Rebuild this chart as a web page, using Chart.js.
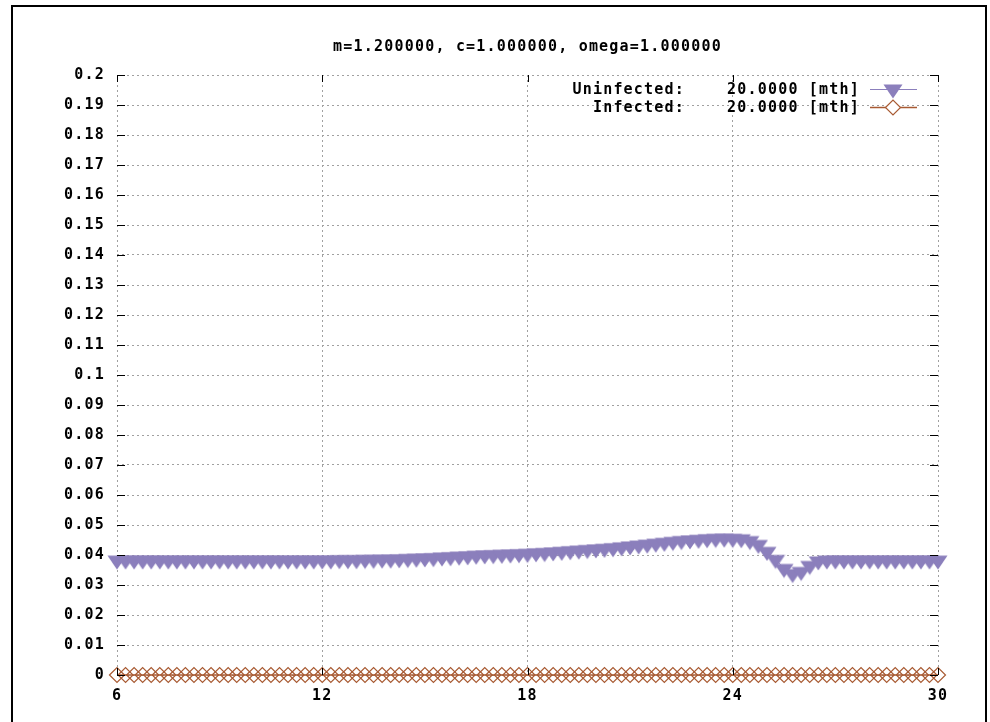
<!DOCTYPE html>
<html>
<head>
<meta charset="utf-8">
<title>m=1.200000, c=1.000000, omega=1.000000</title>
<script src="https://cdn.jsdelivr.net/npm/chart.js"></script>
<style>
  html, body { margin: 0; padding: 0; background: #fff; overflow: hidden; }
  #frame { position: absolute; left: 11px; top: 5px; width: 972px; height: 800px; border: 2px solid #000; border-bottom: none; }
  #wrap { position: absolute; left: 0; top: 0; width: 990px; height: 722px; }
</style>
</head>
<body>
<div id="frame"></div>
<div id="wrap"><canvas id="chart"></canvas></div>
<script>
// chart text
var title = 'm=1.200000, c=1.000000, omega=1.000000';
var seriesNames = ['Uninfected:', 'Infected:'];
var seriesNotes = ['20.0000 [mth]', '20.0000 [mth]'];

// axes
var xTicks = [6, 12, 18, 24, 30];
var yTicks = [0, 0.01, 0.02, 0.03, 0.04, 0.05, 0.06, 0.07, 0.08, 0.09, 0.1,
              0.11, 0.12, 0.13, 0.14, 0.15, 0.16, 0.17, 0.18, 0.19, 0.2];
var yLabels = ['0', '0.01', '0.02', '0.03', '0.04', '0.05', '0.06', '0.07', '0.08', '0.09', '0.1',
               '0.11', '0.12', '0.13', '0.14', '0.15', '0.16', '0.17', '0.18', '0.19', '0.2'];

// sample times
var times = [
  6, 6.25, 6.5, 6.75, 7, 7.25, 7.5, 7.75, 8, 8.25, 8.5, 8.75,
  9, 9.25, 9.5, 9.75, 10, 10.25, 10.5, 10.75, 11, 11.25, 11.5, 11.75,
  12, 12.25, 12.5, 12.75, 13, 13.25, 13.5, 13.75, 14, 14.25, 14.5, 14.75,
  15, 15.25, 15.5, 15.75, 16, 16.25, 16.5, 16.75, 17, 17.25, 17.5, 17.75,
  18, 18.25, 18.5, 18.75, 19, 19.25, 19.5, 19.75, 20, 20.25, 20.5, 20.75,
  21, 21.25, 21.5, 21.75, 22, 22.25, 22.5, 22.75, 23, 23.25, 23.5, 23.75,
  24, 24.25, 24.5, 24.75, 25, 25.25, 25.5, 25.75, 26, 26.25, 26.5, 26.75,
  27, 27.25, 27.5, 27.75, 28, 28.25, 28.5, 28.75, 29, 29.25, 29.5, 29.75,
  30
];

var uninfected = [
  0.0383, 0.0383, 0.0383, 0.0383, 0.0383, 0.0383, 0.0383, 0.0383, 0.0383, 0.0383, 0.0383, 0.0383,
  0.0383, 0.0383, 0.0383, 0.0383, 0.0383, 0.0383, 0.0383, 0.0383, 0.0383, 0.0383, 0.0383, 0.0383,
  0.0383, 0.0383, 0.0384, 0.0384, 0.0384, 0.0385, 0.0385, 0.0386, 0.0386, 0.0387, 0.0388, 0.0389,
  0.0390, 0.0391, 0.0393, 0.0394, 0.0396, 0.0397, 0.0399, 0.0400, 0.0401, 0.0402, 0.0403, 0.0404,
  0.0405, 0.0407, 0.0408, 0.0410, 0.0412, 0.0414, 0.0416, 0.0418, 0.0420, 0.0422, 0.0424, 0.0427,
  0.0430, 0.0433, 0.0436, 0.0439, 0.0442, 0.0445, 0.0448, 0.0450, 0.0452, 0.0454, 0.0455, 0.0456,
  0.0455, 0.0454, 0.0448, 0.0435, 0.0412, 0.0385, 0.0355, 0.0338, 0.0345, 0.0365, 0.0380, 0.0383,
  0.0383, 0.0383, 0.0383, 0.0383, 0.0383, 0.0383, 0.0383, 0.0383, 0.0383, 0.0383, 0.0383, 0.0383,
  0.0383
];

var infected = [
  0, 0, 0, 0, 0, 0, 0, 0, 0, 0, 0, 0,
  0, 0, 0, 0, 0, 0, 0, 0, 0, 0, 0, 0,
  0, 0, 0, 0, 0, 0, 0, 0, 0, 0, 0, 0,
  0, 0, 0, 0, 0, 0, 0, 0, 0, 0, 0, 0,
  0, 0, 0, 0, 0, 0, 0, 0, 0, 0, 0, 0,
  0, 0, 0, 0, 0, 0, 0, 0, 0, 0, 0, 0,
  0, 0, 0, 0, 0, 0, 0, 0, 0, 0, 0, 0,
  0, 0, 0, 0, 0, 0, 0, 0, 0, 0, 0, 0,
  0
];

var purple = '#8b7fbc';
var brown = '#a85a32';
var gridGray = '#a0a0a0';
var spacing = '1.2px';
var fontFamily = "'DejaVu Sans Mono', monospace";

function points(ys) {
  return times.map(function(t, i) { return {x: t, y: ys[i]}; });
}

// gnuplot style filled down triangle, a bit wider than equilateral
var downTri = document.createElement('canvas');
downTri.width = 20;
downTri.height = 20;
(function() {
  var c = downTri.getContext('2d');
  c.fillStyle = purple;
  c.beginPath();
  c.moveTo(0.5, 5.5);
  c.lineTo(19.5, 5.5);
  c.lineTo(10, 19.5);
  c.closePath();
  c.fill();
})();

// gnuplot-like decorations: inward tick marks, title, key
var decor = {
  id: 'decor',
  beforeLayout: function(chart) { chart.ctx.letterSpacing = spacing; },
  beforeDraw: function(chart) { chart.ctx.letterSpacing = spacing; },
  afterDatasetsDraw: function(chart) {
    var ctx = chart.ctx, a = chart.chartArea;
    var xs = chart.scales.x, ys = chart.scales.y;
    ctx.save();
    ctx.strokeStyle = '#000';
    ctx.lineWidth = 1;
    ctx.beginPath();
    yTicks.forEach(function(v) {
      var y = Math.round(ys.getPixelForValue(v)) + 0.5;
      ctx.moveTo(a.left, y); ctx.lineTo(a.left + 8, y);
      ctx.moveTo(a.right, y); ctx.lineTo(a.right - 8, y);
    });
    xTicks.forEach(function(v) {
      var x = Math.round(xs.getPixelForValue(v)) + 0.5;
      ctx.moveTo(x, a.bottom); ctx.lineTo(x, a.bottom - 7);
      ctx.moveTo(x, a.top); ctx.lineTo(x, a.top + 7);
    });
    ctx.stroke();
    ctx.restore();
  },
  afterDraw: function(chart) {
    var ctx = chart.ctx, a = chart.chartArea;
    ctx.save();
    ctx.letterSpacing = spacing;
    ctx.font = 'bold 15px ' + fontFamily;
    ctx.fillStyle = '#000';
    ctx.textBaseline = 'middle';
    ctx.textAlign = 'center';
    ctx.fillText(title, (a.left + a.right) / 2, 47);

    var rows = [90, 108];
    var colors = [purple, brown];
    rows.forEach(function(y, i) {
      ctx.fillStyle = '#000';
      ctx.textAlign = 'right';
      ctx.fillText(seriesNames[i], 685, y);
      ctx.textAlign = 'left';
      ctx.fillText(seriesNotes[i], 727, y);
      ctx.strokeStyle = colors[i];
      ctx.lineWidth = i === 0 ? 1 : 1.5;
      ctx.beginPath();
      ctx.moveTo(870, y - 0.5); ctx.lineTo(917, y - 0.5);
      ctx.stroke();
    });
    Chart.helpers.drawPoint(ctx, {pointStyle: downTri, radius: 9, rotation: 0, borderWidth: 0}, 893, 89);
    ctx.fillStyle = '#fff';
    ctx.strokeStyle = brown;
    ctx.lineWidth = 1.2;
    Chart.helpers.drawPoint(ctx, {pointStyle: 'rectRot', radius: 7.5, rotation: 0, borderWidth: 1.2}, 893, 107.5);
    ctx.restore();
  }
};

var ctx = document.getElementById('chart').getContext('2d');
var chart = new Chart(ctx, {
  type: 'line',
  data: {
    datasets: [{
      label: 'Uninfected',
      data: points(uninfected),
      borderColor: purple,
      backgroundColor: purple,
      borderWidth: 1,
      pointStyle: downTri,
      pointRadius: 9,
      pointBorderWidth: 0,
      pointBackgroundColor: purple,
      pointBorderColor: purple,
      clip: false
    }, {
      label: 'Infected',
      data: points(infected),
      borderColor: brown,
      backgroundColor: 'rgba(0,0,0,0)',
      borderWidth: 1.5,
      pointStyle: 'rectRot',
      pointRadius: 7.5,
      pointBorderWidth: 1.2,
      pointBackgroundColor: 'rgba(0,0,0,0)',
      pointBorderColor: brown,
      clip: false
    }]
  },
  options: {
    responsive: true,
    maintainAspectRatio: false,
    animation: false,
    events: [],
    layout: { padding: { top: 75, right: 52, left: 0, bottom: 0 } },
    plugins: {
      legend: { display: false },
      tooltip: { enabled: false },
      title: { display: false }
    },
    scales: {
      x: {
        type: 'linear',
        min: 6, max: 30,
        afterFit: function(s) { s.height = 47; },
        afterBuildTicks: function(s) { s.ticks = xTicks.map(function(v) { return {value: v}; }); },
        ticks: {
          color: '#000',
          padding: 12,
          maxRotation: 0,
          autoSkip: false,
          font: { family: fontFamily, size: 15, weight: 'bold' },
          callback: function(v, i) { return String(xTicks[i]); }
        },
        grid: { color: gridGray, lineWidth: 1, drawTicks: false },
        border: { display: false, dash: [2, 3] }
      },
      y: {
        min: 0, max: 0.2,
        afterFit: function(s) { s.width = 117; },
        afterBuildTicks: function(s) { s.ticks = yTicks.map(function(v) { return {value: v}; }); },
        ticks: {
          color: '#000',
          padding: 12,
          autoSkip: false,
          font: { family: fontFamily, size: 15, weight: 'bold' },
          callback: function(v, i) { return yLabels[i]; }
        },
        grid: { color: gridGray, lineWidth: 1, drawTicks: false },
        border: { display: false, dash: [2, 3] }
      }
    }
  },
  plugins: [decor]
});
</script>
</body>
</html>
